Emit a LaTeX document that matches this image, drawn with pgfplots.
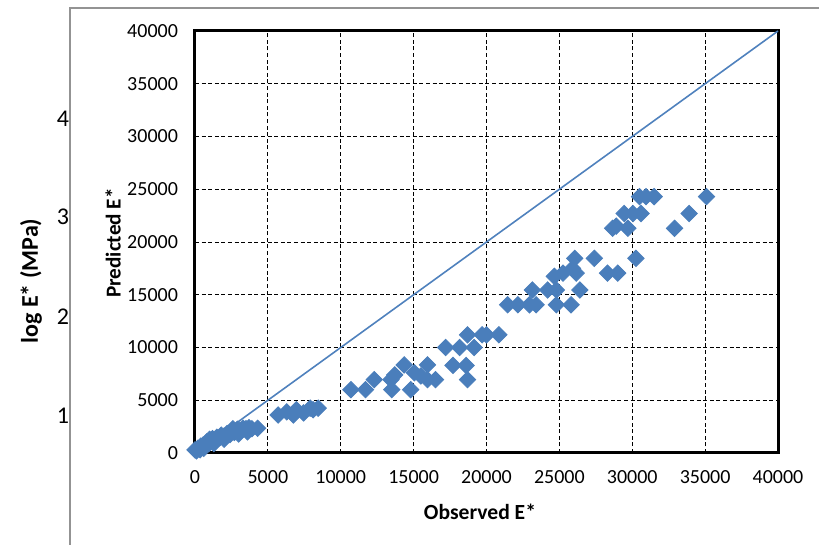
\documentclass[border=0pt]{standalone}
\usepackage{fontspec}
\setmainfont{Carlito}
\usepackage{pgfplots}
\pgfplotsset{compat=1.18}
\definecolor{xblue}{RGB}{74,126,187}
\definecolor{lblue}{RGB}{79,129,189}
\begin{document}
\begin{tikzpicture}[x=1pt,y=1pt]
\path[use as bounding box] (-97.5,-46) rectangle (312,226.5);
\draw[gray!85, line width=0.9pt] (-62.5,-46) -- (-62.5,222.5) -- (312,222.5);
\node[rotate=90, font=\fontsize{12}{14}\selectfont\bfseries] at (-82,86) {log E* (MPa)};
\node[font=\fontsize{12}{14}\selectfont] at (-66,167) {4};
\node[font=\fontsize{12}{14}\selectfont] at (-66,118) {3};
\node[font=\fontsize{12}{14}\selectfont] at (-66,68) {2};
\node[font=\fontsize{12}{14}\selectfont] at (-66,18.5) {1};
\begin{axis}[
  at={(0,0)}, anchor=south west,
  scale only axis, width=291.5pt, height=211pt,
  xmin=0, xmax=40000, ymin=0, ymax=40000,
  xtick={0,5000,...,40000}, ytick={0,5000,...,40000},
  grid=major,
  major grid style={black, dash pattern=on 2pt off 1.3pt, line width=0.4pt},
  axis line style={black, line width=1.5pt},
  major tick length=0pt,
  scaled ticks=false,
  /pgf/number format/1000 sep={},
  /pgf/number format/assume math mode=true,
  ticklabel style={font=\fontsize{10}{12}\selectfont},
  yticklabel style={xshift=-5pt},
  xticklabel style={yshift=-5pt},
  clip=false,
]
\addplot[lblue, line width=0.8pt] coordinates {(0,0) (40000,40000)};
\addplot[only marks, mark=square*, mark size=2.9pt,
  mark options={rotate=45, fill=xblue, draw=xblue}] coordinates {
(0,300) (100,200) (200,450) (350,300) (400,650) (550,750) (700,800) (800,1050)
(950,900) (1100,1150) (1200,1350) (1400,1250) (1500,1500) (1700,1450) (1800,1700)
(2000,1600) (2200,1850) (2400,1750) (2500,2050) (2700,1950) (2900,2250) (3100,2150)
(3300,2350) (3500,2300) (3700,2400) (3900,2300) (4300,2340) (600,450) (1000,1300) (2600,2300)
(1300,900) (2000,1300) (3000,1800) (3600,2000)
(5700,3600) (6300,3900) (6750,3600) (6950,4100) (7450,3800) (7900,4250) (8450,4250) (8100,4100)
(10700,6000) (11700,6000) (12300,6950) (13450,6950) (13500,6000) (13700,7400) (14350,8350)
(14800,6000) (15050,7600) (15500,7300) (15950,8350) (15950,6950) (16500,6950)
(17200,10000) (17700,8300) (18150,10000) (18600,8300) (18700,11200) (18700,6950)
(19150,10000) (19700,11200) (20000,11200) (20850,11200)
(21450,14050) (22150,14050) (22950,14050) (23150,15450) (23400,14050) (24200,15450)
(24650,16750) (24800,15450) (24800,14050) (25250,17050) (25800,14050) (26050,18450)
(26150,17050) (26400,15450) (25900,17500) (27400,18450) (28300,17050) (29000,17050)
(28650,21300) (28900,21500) (29700,21300) (29450,22700) (30050,22700) (30250,18450)
(30600,22700) (30500,24300) (30950,24300) (31500,24300) (32900,21300) (33900,22700) (35100,24300)
};
\end{axis}
\node[rotate=90, font=\fontsize{10.6}{13}\selectfont\bfseries] at (-41,105) {Predicted E*};
\node[font=\fontsize{10.8}{13}\selectfont\bfseries] at (142.5,-29.5) {Observed E*};
\end{tikzpicture}
\end{document}
